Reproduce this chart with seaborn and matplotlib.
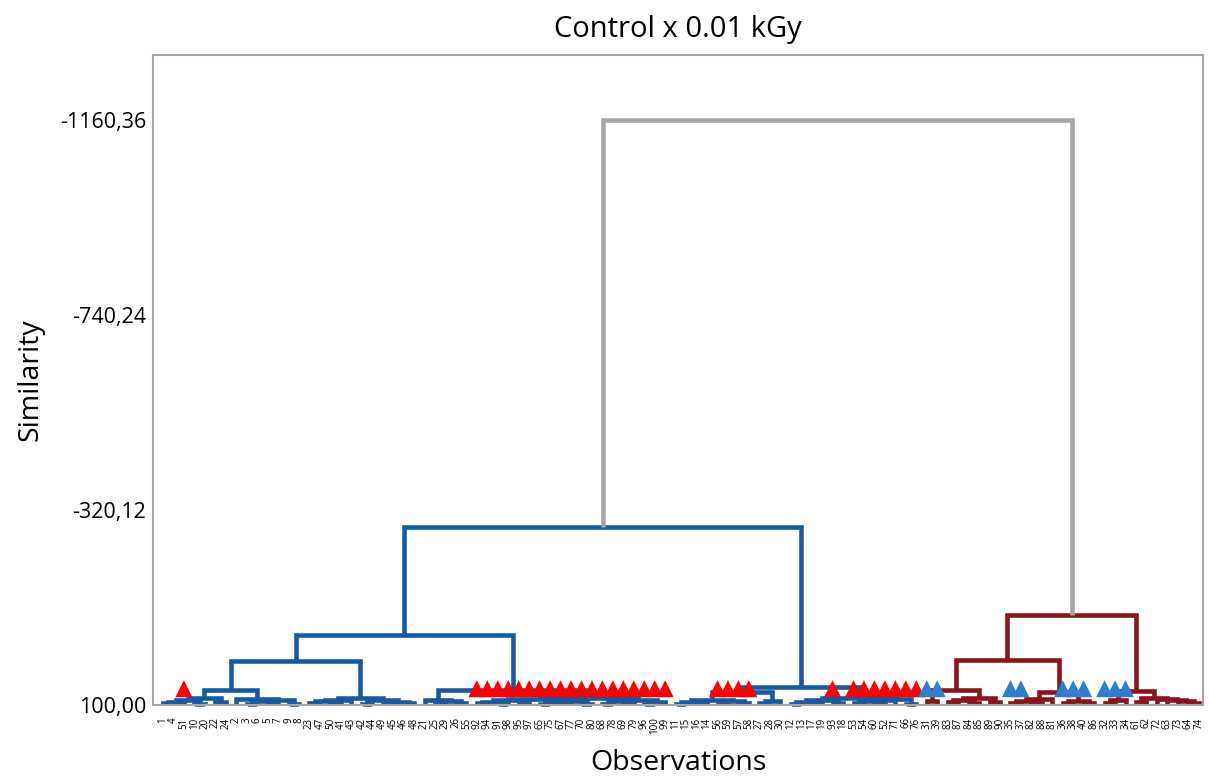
import seaborn as sns
import pandas as pd
import matplotlib.pyplot as plt


# leaf order along the x axis (observation numbers)
observations = [1, 4, 51, 10, 20, 22, 24, 2, 3, 6,
                5, 7, 9, 8, 23, 47, 50, 41, 43, 42,
                44, 49, 45, 46, 48, 21, 25, 29, 26, 55,
                92, 94, 91, 98, 95, 97, 65, 75, 67, 77,
                70, 80, 68, 78, 69, 79, 96, 100, 99, 11,
                15, 16, 14, 56, 59, 57, 58, 27, 28, 30,
                12, 13, 17, 19, 93, 18, 53, 54, 60, 52,
                71, 66, 76, 31, 39, 83, 87, 84, 85, 89,
                90, 35, 37, 82, 88, 81, 36, 38, 40, 86,
                32, 33, 34, 61, 62, 72, 63, 73, 64, 74]

# merges: (new node, left, right, similarity)
blue_left_merges = [
    ("a1", 1, 4, 96), ("a2", "a1", 51, 93), ("a3", 10, 20, 97),
    ("a4", "a2", "a3", 89), ("a5", 22, 24, 94), ("A", "a4", "a5", 85),
    ("b1", 3, 6, 97), ("b2", 5, 7, 96), ("b3", "b1", "b2", 92),
    ("b4", 9, 8, 97), ("b5", "b3", "b4", 90), ("B", 2, "b5", 88),
    ("AB", "A", "B", 68),
    ("c1", 23, 47, 96), ("c2", 50, 41, 95), ("c3", "c1", "c2", 92),
    ("c4", "c3", 43, 90), ("c5", 42, 44, 97), ("c6", 49, 45, 95),
    ("c7", 46, 48, 96), ("c8", "c6", "c7", 93), ("c9", "c5", "c8", 90),
    ("C", "c4", "c9", 86),
    ("ABC", "AB", "C", 5),
    ("d1", 25, 29, 96), ("d2", 26, 55, 95), ("d3", "d1", "d2", 92),
    ("D", 21, "d3", 89),
    ("e1", 92, 94, 96), ("e2", 91, 98, 97), ("e3", "e1", "e2", 93),
    ("e4", 95, 97, 96), ("e5", "e3", "e4", 90),
    ("e6", 65, 75, 98), ("e7", 67, 77, 96), ("e8", "e6", "e7", 93),
    ("e9", 70, 80, 97), ("e10", "e8", "e9", 91),
    ("e11", 68, 78, 97), ("e12", 69, 79, 96), ("e13", "e11", "e12", 92),
    ("e14", 96, 100, 97), ("e15", "e14", 99, 94), ("e16", "e13", "e15", 90),
    ("e17", "e5", "e10", 87), ("E", "e17", "e16", 84),
    ("DE", "D", "E", 68),
    ("BL", "ABC", "DE", -50.8),
]

blue_right_merges = [
    ("f1", 11, 15, 97), ("f2", 16, 14, 96), ("f3", "f1", "f2", 93),
    ("f4", 56, 59, 95), ("f5", 57, 58, 96), ("f6", "f4", "f5", 92),
    ("f7", "f3", "f6", 89), ("f8", 27, 28, 95), ("f9", "f8", 30, 91),
    ("F", "f7", "f9", 73),
    ("g1", 12, 13, 97), ("g2", 17, 19, 96), ("g3", "g1", "g2", 93),
    ("g4", 93, 18, 95), ("g5", "g3", "g4", 89),
    ("g6", 53, 54, 96), ("g7", 60, 52, 95), ("g8", "g6", "g7", 92),
    ("g9", "g8", 71, 90), ("g10", 66, 76, 97), ("g11", "g9", "g10", 87),
    ("G", "g5", "g11", 84),
    ("BR", "F", "G", 61),
    ("BLUE", "BL", "BR", -283.5),
]

red_merges = [
    ("h1", 31, 39, 92), ("h2", 83, 87, 94), ("h3", 84, 85, 95),
    ("h4", "h2", "h3", 89), ("h5", 89, 90, 94), ("h6", "h4", "h5", 85),
    ("H", "h1", "h6", 68),
    ("i1", 35, 37, 95), ("i2", 82, 88, 96), ("i3", "i1", "i2", 91),
    ("i4", "i3", 81, 88), ("i5", 36, 38, 95), ("i6", 40, 86, 96),
    ("i7", "i5", "i6", 91), ("I", "i4", "i7", 72),
    ("HI", "H", "I", 3),
    ("j1", 32, 33, 95), ("j2", "j1", 34, 90), ("j3", 61, 62, 94),
    ("j4", 64, 74, 95), ("j5", 73, "j4", 92), ("j6", 63, "j5", 90),
    ("j7", 72, "j6", 88), ("j8", "j3", "j7", 84), ("J", "j2", "j8", 70),
    ("RED", "HI", "J", -94),
]

root_merges = [("ROOT", "BLUE", "RED", -1160.36)]

# triangle markers
red_marked = [51, 92, 94, 91, 98, 95, 97, 65, 75, 67, 77, 70, 80, 68, 78,
              69, 79, 96, 100, 99, 56, 59, 57, 58, 93, 53, 54, 60, 52, 71,
              66, 76]
blue_marked = [31, 39, 35, 37, 36, 38, 40, 32, 33, 34]
marker_similarity = 65

ytick_values = [100, -320.12, -740.24, -1160.36]
ytick_labels = ["100,00", "-320,12", "-740,24", "-1160,36"]

BLUE = "#165aa5"
DARKRED = "#8c1419"
GREY = "#a6a6a6"


def main():
    sns.set_style("white")
    plt.rcParams["font.family"] = ["Open Sans", "DejaVu Sans"]
    plt.rcParams["text.color"] = "black"
    plt.rcParams["axes.labelcolor"] = "black"
    plt.rcParams["xtick.labelcolor"] = "black"
    plt.rcParams["ytick.labelcolor"] = "black"

    fig, ax = plt.subplots(figsize=(12.09, 7.82), dpi=100)
    fig.subplots_adjust(left=0.1266, right=0.995, bottom=0.0985, top=0.9297)

    pos = {obs: i for i, obs in enumerate(observations)}
    node_x = dict(pos)
    node_y = {obs: 100 for obs in observations}

    for merges, color in [(blue_left_merges, BLUE), (blue_right_merges, BLUE),
                          (red_merges, DARKRED), (root_merges, GREY)]:
        for name, left, right, sim in merges:
            xl, xr = node_x[left], node_x[right]
            yl, yr = node_y[left], node_y[right]
            ax.plot([xl, xl, xr, xr], [yl, sim, sim, yr], color=color,
                    lw=3.3, solid_capstyle="butt", solid_joinstyle="miter",
                    clip_on=False, zorder=2)
            node_x[name] = (xl + xr) / 2
            node_y[name] = sim

    marks = pd.DataFrame({
        "obs": red_marked + blue_marked,
        "group": ["red"] * len(red_marked) + ["blue"] * len(blue_marked),
    })
    marks["x"] = marks["obs"].map(pos)
    marks["similarity"] = marker_similarity
    sns.scatterplot(data=marks, x="x", y="similarity", hue="group",
                    palette={"red": "#ff0000", "blue": "#2f7fd0"},
                    marker="^", s=150, linewidth=0, legend=False,
                    zorder=3, ax=ax)

    ax.set_xlim(-0.95, 99.4)
    ax.set_ylim(100, -1300)
    ax.set_yticks(ytick_values)
    ax.set_yticklabels(ytick_labels, fontsize=15.5)
    ax.set_xticks(range(len(observations)))
    ax.set_xticklabels([str(o) for o in observations], rotation=90,
                       fontsize=7)
    ax.tick_params(axis="x", length=7, width=1.5, color=GREY, pad=2)
    ax.tick_params(axis="y", length=3, width=1.2, color=GREY, pad=2)
    for side in ["left", "right", "top", "bottom"]:
        ax.spines[side].set_color(GREY)
        ax.spines[side].set_linewidth(1.5)

    ax.set_title("Control x 0.01 kGy", fontsize=21, pad=13)
    ax.set_xlabel("Observations", fontsize=20.5)
    ax.set_ylabel("Similarity", fontsize=20.5)
    ax.xaxis.set_label_coords(0.5, -0.068)
    ax.yaxis.set_label_coords(-0.103, 0.5)

    fig.savefig("out.png", dpi=100)


if __name__ == "__main__":
    main()
